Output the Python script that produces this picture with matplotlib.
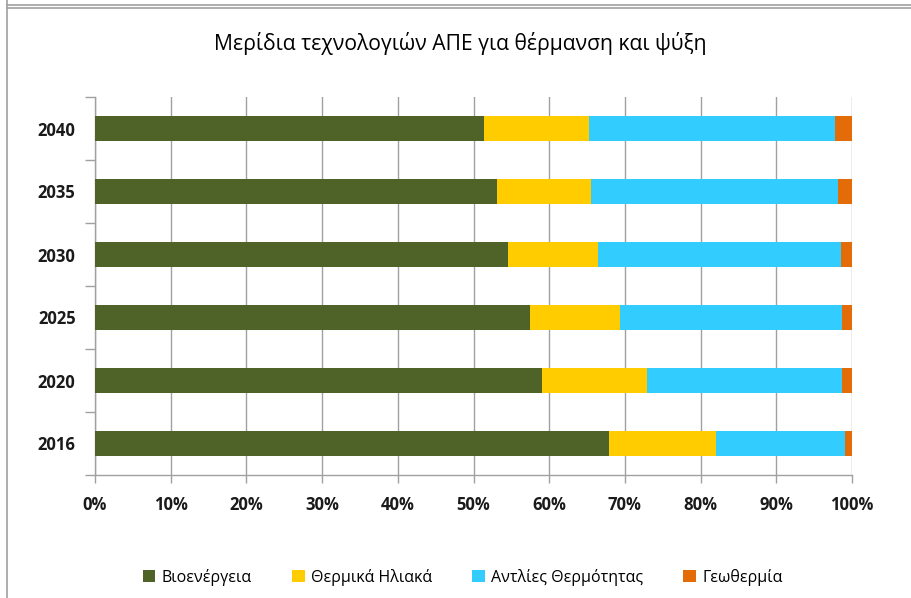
import numpy as np
import matplotlib as mpl
mpl.use('Agg')
import matplotlib.pyplot as plt
from matplotlib.lines import Line2D
from matplotlib.ticker import FixedLocator, PercentFormatter

plt.rcParams['font.family'] = ['Open Sans', 'DejaVu Sans']

# Δεδομένα (μερίδια %)
years = ['2016', '2020', '2025', '2030', '2035', '2040']
bioenergy = [67.9, 59.0, 57.4, 54.6, 53.1, 51.4]
solar_thermal = [14.2, 13.9, 12.0, 11.8, 12.4, 13.9]
heat_pumps = [17.0, 25.8, 29.3, 32.1, 32.6, 32.5]
geothermal = [0.9, 1.3, 1.3, 1.5, 1.9, 2.2]

series = [
    ('Βιοενέργεια', bioenergy, '#4F6228'),
    ('Θερμικά Ηλιακά', solar_thermal, '#FFCC00'),
    ('Αντλίες Θερμότητας', heat_pumps, '#33CCFF'),
    ('Γεωθερμία', geothermal, '#E36C09'),
]

fig = plt.figure(figsize=(9.11, 5.98), dpi=100, facecolor='white')
ax = fig.add_axes([95/911, 1-475/598, 757/911, 378/598])

y = np.arange(len(years))
left = np.zeros(len(years))
for name, vals, col in series:
    vals = np.array(vals)
    ax.barh(y, vals, left=left, height=0.4, color=col, label=name, zorder=3)
    left += vals

ax.set_xlim(0, 100)
ax.set_ylim(-0.5, len(years) - 0.5)
ax.set_xticks(np.arange(0, 101, 10))
ax.xaxis.set_major_formatter(PercentFormatter(decimals=0))
ax.set_yticks(y)
ax.set_yticklabels(years)
ax.yaxis.set_minor_locator(FixedLocator(np.arange(-0.5, len(years), 1)))

for lab in ax.get_xticklabels() + ax.get_yticklabels():
    lab.set_fontweight('bold')
    lab.set_fontsize(12)
    lab.set_color('#1a1a1a')

ax.tick_params(axis='x', length=6, width=1, color='#A0A0A0', pad=9)
ax.tick_params(axis='y', which='major', length=0, pad=14)
ax.tick_params(axis='y', which='minor', length=7, width=1, color='#A0A0A0')

ax.grid(axis='x', color='#A0A0A0', linewidth=1, zorder=0)
ax.set_axisbelow(True)
for side in ['top', 'right']:
    ax.spines[side].set_visible(False)
for side in ['left', 'bottom']:
    ax.spines[side].set_color('#A0A0A0')
    ax.spines[side].set_linewidth(1)

fig.suptitle('Μερίδια τεχνολογιών ΑΠΕ για θέρμανση και ψύξη', x=0.505, y=1-32/598,
             fontsize=15.2, color='#000000', fontweight='medium')

fig.legend(loc='center', bbox_to_anchor=(0.508, 1-577/598), ncol=4, frameon=False,
           fontsize=11.5, handlelength=0.8, handleheight=0.8, handletextpad=0.4,
           columnspacing=2.5)

# Πλαίσιο
for yy in [4.5, 8]:
    fig.add_artist(Line2D([7/911, 1], [1-yy/598, 1-yy/598], color='#A0A0A0', lw=1.2))
fig.add_artist(Line2D([7/911, 7/911], [0, 1], color='#A0A0A0', lw=1.2))

fig.savefig('out.png', dpi=100, facecolor='white')
